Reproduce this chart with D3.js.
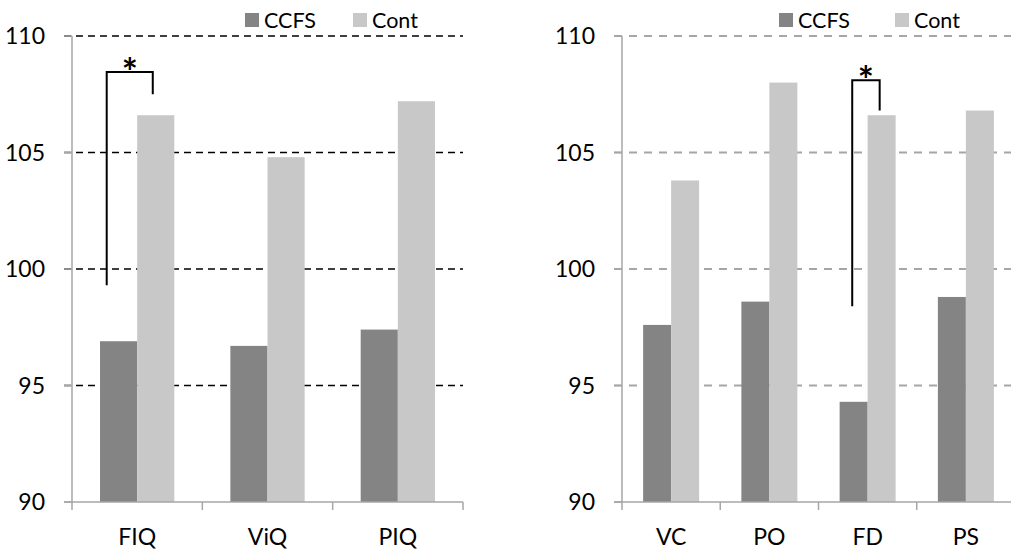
<!DOCTYPE html>
<html><head><meta charset="utf-8">
<script src="https://cdn.jsdelivr.net/npm/d3@7"></script>
<style>body{margin:0;background:#fff}svg{display:block}text{font-family:Lato,"Open Sans",sans-serif;fill:#000}</style>
</head><body>
<svg id="c" width="1011" height="553"></svg>
<script>
const series = ["CCFS", "Cont"];
const leftCategories = ["FIQ", "ViQ", "PIQ"];
const leftCCFS = [96.9, 96.7, 97.4];
const leftCont = [106.6, 104.8, 107.2];
const rightCategories = ["VC", "PO", "FD", "PS"];
const rightCCFS = [97.6, 98.6, 94.3, 98.8];
const rightCont = [103.8, 108.0, 106.6, 106.8];
const yTicks = [90, 95, 100, 105, 110];
// significance brackets: [category, top, left-leg bottom, right-leg bottom]
const leftSig = [{cat: "FIQ", top: 108.45, lb: 99.3, rb: 107.5, lf: 0.18, rf: 0.42}];
const rightSig = [{cat: "FD", top: 108.1, lb: 98.4, rb: 106.8, lf: 0.45, rf: 0.43}];

const colors = {CCFS: "#848484", Cont: "#c8c8c8"};
const svg = d3.select("#c");

function panel(cfg) {
  const g = svg.append("g");
  const y = d3.scaleLinear().domain([90, 110]).range([502, 36]);
  const x0 = d3.scaleBand().domain(cfg.cats).range([cfg.x0, cfg.x1]).padding(0);
  const bw = x0.bandwidth();
  const x1 = d3.scaleBand().domain(series).range([bw * 0.215, bw * 0.785]).padding(0);

  g.selectAll(".grid").data(yTicks.filter(t => t > 90)).join("line")
    .attr("x1", cfg.x0 - 8).attr("x2", cfg.gridEnd)
    .attr("y1", d => y(d)).attr("y2", d => y(d))
    .attr("stroke", cfg.gridColor).attr("stroke-width", cfg.gridW)
    .attr("stroke-dasharray", cfg.dash);
  g.selectAll(".yt").data(yTicks).join("line")
    .attr("x1", cfg.x0 - 8).attr("x2", cfg.x0)
    .attr("y1", d => y(d)).attr("y2", d => y(d))
    .attr("stroke", "#a6a6a6").attr("stroke-width", 1.5);

  const data = cfg.cats.map((c, i) => ({cat: c, CCFS: cfg.ccfs[i], Cont: cfg.cont[i]}));
  g.selectAll(".grp").data(data).join("g")
    .attr("transform", d => `translate(${x0(d.cat)},0)`)
    .selectAll("rect").data(d => series.map(s => ({s, v: d[s]}))).join("rect")
    .attr("x", d => x1(d.s)).attr("width", x1.bandwidth())
    .attr("y", d => y(d.v)).attr("height", d => y(90) - y(d.v))
    .attr("fill", d => colors[d.s]);

  g.append("line").attr("x1", cfg.x0).attr("x2", cfg.x0).attr("y1", y(110)).attr("y2", y(90))
    .attr("stroke", "#a6a6a6").attr("stroke-width", 1.5);
  g.append("line").attr("x1", cfg.x0 - 8).attr("x2", cfg.x1).attr("y1", y(90)).attr("y2", y(90))
    .attr("stroke", "#a6a6a6").attr("stroke-width", 1.5);
  const xt = cfg.cats.map(c => x0(c)).concat([cfg.x1]);
  g.selectAll(".xt").data(xt).join("line")
    .attr("x1", d => d).attr("x2", d => d).attr("y1", y(90)).attr("y2", y(90) + 8)
    .attr("stroke", "#a6a6a6").attr("stroke-width", 1.5);

  g.selectAll(".yl").data(yTicks).join("text")
    .attr("x", cfg.x0 - 27).attr("y", d => y(d)).attr("dy", "0.36em")
    .attr("text-anchor", "end").attr("font-size", 23).text(d => d);
  g.selectAll(".xl").data(cfg.cats).join("text")
    .attr("x", d => x0(d) + bw / 2).attr("y", 545)
    .attr("text-anchor", "middle").attr("font-size", 23).text(d => d);

  series.forEach((s, i) => {
    const lx = cfg.legX[i];
    g.append("rect").attr("x", lx).attr("y", 13).attr("width", 14).attr("height", 14).attr("fill", colors[s]);
    g.append("text").attr("x", lx + 19).attr("y", 27.5).attr("font-size", 21.5).text(s);
  });

  cfg.sig.forEach(sg => {
    const bx = x0(sg.cat);
    const xl = bx + x1("CCFS") + x1.bandwidth() * sg.lf;
    const xr = bx + x1("Cont") + x1.bandwidth() * sg.rf;
    g.append("path")
      .attr("d", `M${xl},${y(sg.lb)}V${y(sg.top)}H${xr}V${y(sg.rb)}`)
      .attr("fill", "none").attr("stroke", "#000").attr("stroke-width", 2);
    g.append("text").attr("x", (xl + xr) / 2).attr("y", y(sg.top) + 14)
      .attr("text-anchor", "middle").attr("font-size", 38).attr("font-weight", "bold").text("*");
  });
}

panel({cats: leftCategories, ccfs: leftCCFS, cont: leftCont, x0: 72, x1: 463, gridEnd: 463,
  gridColor: "#000", gridW: 1.3, dash: "7,5", legX: [245, 353], sig: leftSig});
panel({cats: rightCategories, ccfs: rightCCFS, cont: rightCont, x0: 622, x1: 1015, gridEnd: 1011,
  gridColor: "#a6a6a6", gridW: 2, dash: "8,7", legX: [779, 895], sig: rightSig});
</script>
</body></html>
